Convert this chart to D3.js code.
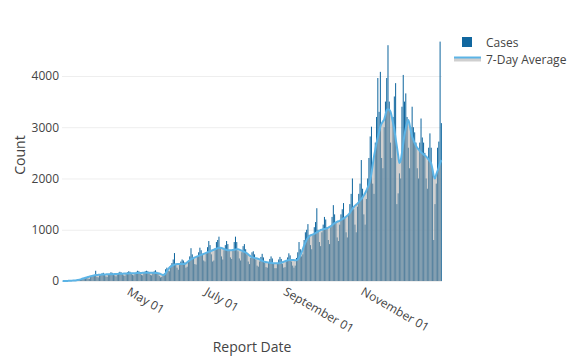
<!DOCTYPE html>
<meta charset="utf-8">
<body style="margin:0">
<script src="https://d3js.org/d3.v7.min.js"></script>
<script>
var width = 572,
    height = 358;

// daily data, first day is 2020-03-08
var startDate = Date.UTC(2020, 2, 8);

var cases = [
  0,0,0,1,2,3,4,
  5,6,8,12,15,20,18,
  20,40,55,60,50,70,45,
  40,80,90,110,120,200,80,
  70,110,130,150,160,120,90,
  80,120,140,170,160,130,110,
  90,130,160,180,170,140,110,
  100,140,170,190,180,150,120,
  110,150,180,200,190,150,120,
  110,160,190,200,190,160,120,
  110,160,190,210,180,150,100,
  70,80,120,150,230,260,200,
  190,300,350,420,545,330,260,
  220,310,380,420,400,360,260,
  280,400,480,640,520,450,330,
  320,480,560,650,600,520,400,
  380,560,660,780,700,520,380,
  400,640,760,800,865,660,480,
  420,600,700,780,720,600,460,
  430,620,760,865,760,580,440,
  400,560,680,720,620,520,380,
  330,450,560,580,520,420,300,
  280,380,470,530,460,360,270,
  260,360,430,480,440,340,250,
  250,350,420,470,430,330,260,
  270,390,460,540,500,380,300,
  260,300,450,560,760,620,480,
  520,800,950,1000,1110,900,700,
  620,900,1050,1150,1420,1000,760,
  680,950,1100,1250,1200,1050,800,
  720,1050,1250,1480,1300,1150,850,
  780,1100,1300,1400,1520,1250,950,
  850,1300,1500,1700,2000,1400,1100,
  950,1450,1700,1900,2360,1800,1300,
  1100,1600,2000,2400,2820,3010,1900,
  1700,2700,3200,3960,3300,4080,2400,
  2200,3000,3500,3960,4600,3500,2700,
  2400,3200,3600,3860,1500,1710,2100,
  2000,3400,4020,3500,3660,3200,2600,
  2200,3000,3400,3000,2900,2700,2200,
  2000,2700,3170,2800,2700,2500,2000,
  1800,2600,2880,2600,2200,800,1500,
  1900,2600,2720,4670,3080
];

var avgMar = [0,0,0,0,2,3,5,6,8,10,12,15,20,25,32,40,48,55,62,70,78,85,92,100];
var avgApr = [105,110,115,118,120,122,124,125,126,128,129,130,130,131,132,133,134,135,137,138,140,141,142,143,144,145,146,147,148,149];
var avgMay = [150,151,152,153,154,155,156,157,158,159,160,160,160,161,161,160,160,159,158,157,155,152,148,140,125,115,120,150,190,230,260];
var avgJun = [280,295,310,320,328,330,330,330,330,330,330,332,345,365,385,405,420,435,448,460,470,480,490,500,510,520,530,540,550,560];
var avgJul = [570,580,590,600,610,620,630,640,645,650,645,635,625,615,608,602,600,600,602,606,610,615,620,618,612,603,592,580,568,555,540];
var avgAug = [520,500,478,465,455,448,444,440,432,420,405,392,382,375,370,365,360,356,352,349,347,345,345,346,348,352,358,366,375,385,395];
var avgSep = [405,410,412,412,410,408,405,405,420,450,500,560,620,690,750,800,840,870,890,900,910,920,935,950,965,980,995,1000,1010,1015];
var avgOct = [1020,1030,1040,1055,1070,1090,1110,1130,1145,1155,1165,1175,1190,1205,1220,1235,1255,1275,1300,1330,1370,1410,1440,1470,1490,1510,1540,1570,1600,1630,1670];
var avgNov = [1710,1760,1820,1880,1970,2100,2270,2430,2560,2690,2800,2900,3010,3070,3110,3150,3240,3330,3350,3340,3300,3200,3080,2950,2780,2620,2450,2300,2350,2500];
var avgDec = [2680,2850,2980,3080,3140,3050,2930,2820,2750,2690,2640,2600,2570,2540,2510,2490,2470,2450,2430,2400,2370,2330,2290,2180,2050,2000,2080,2150,2220,2300,2360];

var yTicks = [0, 1000, 2000, 3000, 4000];
var xTicks = [Date.UTC(2020, 4, 1), Date.UTC(2020, 6, 1), Date.UTC(2020, 8, 1), Date.UTC(2020, 10, 1)];

var avg = [].concat(avgMar, avgApr, avgMay, avgJun, avgJul, avgAug, avgSep, avgOct, avgNov, avgDec);

var day = 864e5;
var data = cases.map(function(c, i) {
  return {date: new Date(startDate + i * day), cases: c, avg: avg[i]};
});

var margin = {left: 62, right: 130, top: 29, bottom: 77};

var x = d3.scaleUtc()
    .domain([new Date(startDate - day / 2), new Date(startDate + (cases.length - 0.5) * day)])
    .range([margin.left, width - margin.right]);

var y = d3.scaleLinear()
    .domain([0, 4916])
    .range([height - margin.bottom, margin.top]);

var barColor = "#11679f",
    lineColor = "#5cb4e6",
    fillColor = "rgba(160,160,160,0.5)",
    font = "'Open Sans', verdana, arial, sans-serif";

var svg = d3.select("body").append("svg")
    .attr("width", width)
    .attr("height", height)
    .style("background", "#fff")
    .style("font-family", font);

// y axis + grid
var yAxis = svg.append("g")
    .attr("transform", "translate(" + margin.left + ",0)")
    .call(d3.axisLeft(y).tickValues(yTicks).tickSize(-(width - margin.left - margin.right)).tickPadding(3).tickFormat(d3.format("d")));
yAxis.select(".domain").remove();
yAxis.selectAll("line").attr("stroke", "#eee");
yAxis.selectAll("text").attr("fill", "#444").style("font-size", "12px").style("font-family", font);

// x axis
var xAxis = svg.append("g")
    .attr("transform", "translate(0," + y(0) + ")")
    .call(d3.axisBottom(x).tickValues(xTicks.map(function(t) { return new Date(t); })).tickSize(0).tickFormat(d3.utcFormat("%B %d")));
xAxis.select(".domain").remove();
xAxis.selectAll("text")
    .attr("x", 0).attr("y", 0).attr("dy", 0)
    .attr("text-anchor", "start")
    .attr("transform", "translate(-5.5,13)rotate(30)")
    .attr("fill", "#444")
    .style("font-size", "12px")
    .style("font-family", font);

var bw = (x.range()[1] - x.range()[0]) / cases.length * 0.8;

svg.append("g").selectAll("rect")
    .data(data)
    .enter().append("rect")
    .attr("x", function(d) { return x(d.date) - bw / 2; })
    .attr("y", function(d) { return y(d.cases); })
    .attr("width", bw)
    .attr("height", function(d) { return y(0) - y(d.cases); })
    .attr("fill", barColor);

var area = d3.area()
    .curve(d3.curveMonotoneX)
    .x(function(d) { return x(d.date); })
    .y0(y(0))
    .y1(function(d) { return y(d.avg); });

var line = d3.line()
    .curve(d3.curveMonotoneX)
    .x(function(d) { return x(d.date); })
    .y(function(d) { return y(d.avg); });

svg.append("path")
    .datum(data)
    .attr("d", area)
    .attr("fill", fillColor);

svg.append("path")
    .datum(data)
    .attr("d", line)
    .attr("fill", "none")
    .attr("stroke", lineColor)
    .attr("stroke-width", 2);

// axis titles
svg.append("text")
    .attr("transform", "translate(20," + (margin.top + (y(0) - margin.top) / 2) + ")rotate(-90)")
    .attr("text-anchor", "middle")
    .attr("dy", "0.35em")
    .attr("fill", "#444")
    .style("font-size", "14px")
    .text("Count");

svg.append("text")
    .attr("x", (x.range()[0] + x.range()[1]) / 2)
    .attr("y", 352)
    .attr("text-anchor", "middle")
    .attr("fill", "#444")
    .style("font-size", "14px")
    .text("Report Date");

// legend
var legend = svg.append("g").style("font-size", "12px");
legend.append("rect")
    .attr("x", 462).attr("y", 37).attr("width", 10).attr("height", 10)
    .attr("fill", barColor);
legend.append("text")
    .attr("x", 486).attr("y", 47)
    .attr("fill", "#444")
    .text("Cases");
legend.append("rect")
    .attr("x", 454).attr("y", 57.5).attr("width", 27).attr("height", 4)
    .attr("fill", fillColor);
legend.append("line")
    .attr("x1", 454).attr("x2", 481).attr("y1", 57.5).attr("y2", 57.5)
    .attr("stroke", lineColor)
    .attr("stroke-width", 2);
legend.append("text")
    .attr("x", 486).attr("y", 64)
    .attr("fill", "#444")
    .text("7-Day Average");
</script>
</html>
